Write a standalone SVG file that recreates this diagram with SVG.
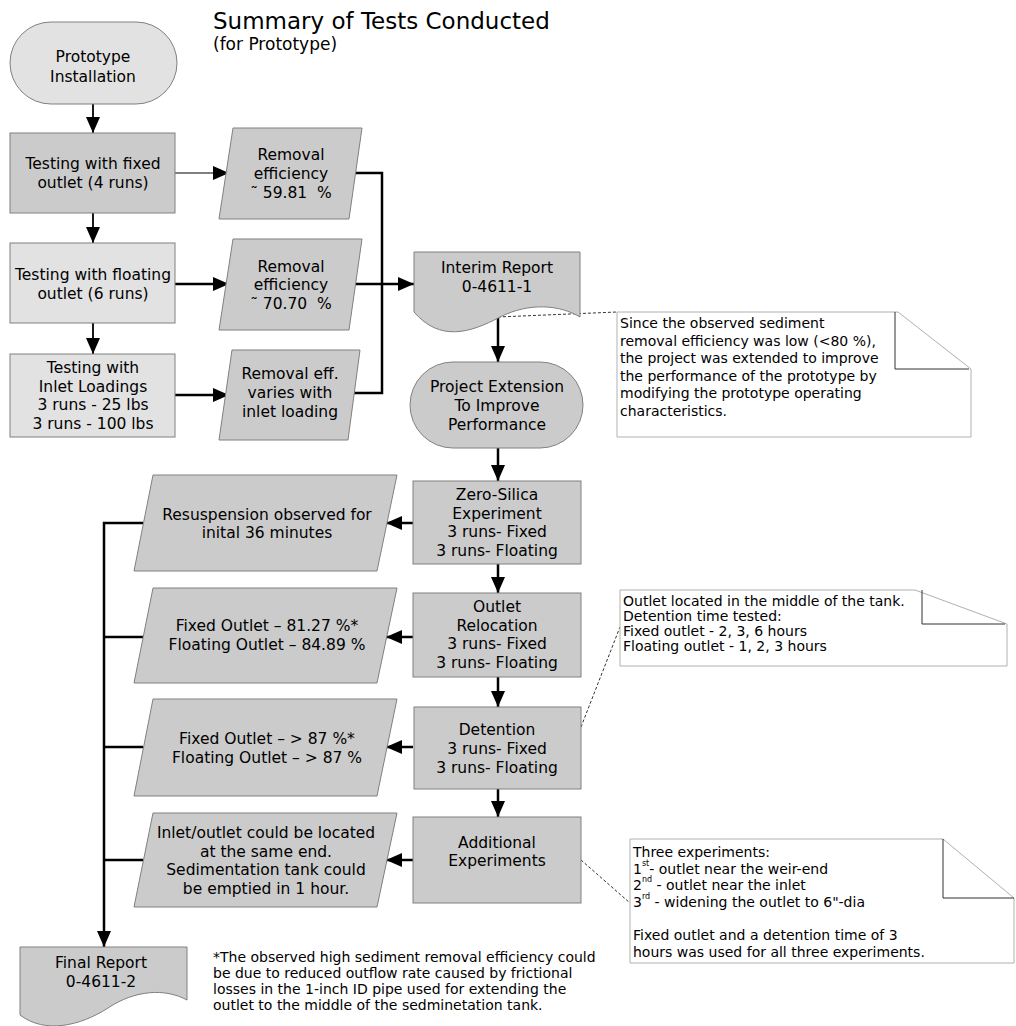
<svg xmlns="http://www.w3.org/2000/svg" width="1016" height="1026" viewBox="0 0 1016 1026">
<style>
text{font-family:"DejaVu Sans",Verdana,sans-serif;fill:#000}
.t{font-size:15.5px;text-anchor:middle}
.n{font-size:14px}
.sup{font-size:8px}
.dk{fill:#cbcbcb;stroke:#808080;stroke-width:1}
.lt{fill:#e2e2e2;stroke:#808080;stroke-width:1}
.note{fill:#fff;stroke:#b0b0b0;stroke-width:1}
.fold{fill:none;stroke:#303030;stroke-width:1}
.c{fill:none;stroke:#000;stroke-width:2.5}
.c2{fill:none;stroke:#000;stroke-width:1.8}
.c1{fill:none;stroke:#000;stroke-width:1.2}
.ds{fill:none;stroke:#000;stroke-width:0.8;stroke-dasharray:3,2}
</style>
<defs>
<marker id="ah" markerUnits="userSpaceOnUse" markerWidth="16" markerHeight="14" refX="16" refY="7" orient="auto">
<path d="M0,0 L16,7 L0,14 Z" fill="#000"/>
</marker>
</defs>
<g id="title">
<text x="213" y="29" style="font-size:23px">Summary of Tests Conducted</text>
<text x="213" y="50" style="font-size:17px">(for Prototype)</text>
</g>
<g id="connectors">
<path class="c2" d="M93,104 V133" marker-end="url(#ah)"/>
<path class="c1" d="M175,173 H229" marker-end="url(#ah)"/>
<path class="c2" d="M93,213 V243" marker-end="url(#ah)"/>
<path class="c" d="M175,284 H229" marker-end="url(#ah)"/>
<path class="c2" d="M93,323 V354" marker-end="url(#ah)"/>
<path class="c" d="M175,395 H229" marker-end="url(#ah)"/>
<path class="c" d="M355,173 H382 V393 H354"/>
<path class="c" d="M355,284 H414" marker-end="url(#ah)"/>
<path class="c" d="M498,318 V362" marker-end="url(#ah)"/>
<path class="c" d="M498,448 V481" marker-end="url(#ah)"/>
<path class="c" d="M413,523 H386" marker-end="url(#ah)"/>
<path class="c" d="M498,564 V593" marker-end="url(#ah)"/>
<path class="c" d="M413,637 H386" marker-end="url(#ah)"/>
<path class="c" d="M498,677 V707" marker-end="url(#ah)"/>
<path class="c" d="M413,747 H386" marker-end="url(#ah)"/>
<path class="c" d="M498,789 V817" marker-end="url(#ah)"/>
<path class="c" d="M413,860 H386" marker-end="url(#ah)"/>
<path class="c" d="M143,523 H104 V947" marker-end="url(#ah)"/>
<path class="c" d="M143,637 H104"/>
<path class="c" d="M143,747 H104"/>
<path class="c" d="M143,860 H104"/>
<path class="ds" d="M498,317 L617,312"/>
<path class="ds" d="M581,727 L620,627"/>
<path class="ds" d="M581,860 L630,903"/>
</g>
<g id="prototype-installation">
<rect class="lt" x="10" y="22" width="167" height="82" rx="41" ry="41"/>
<text class="t" x="93" y="62">Prototype</text>
<text class="t" x="93" y="82">Installation</text>
</g>
<g id="fixed-outlet">
<rect class="dk" x="10" y="133" width="165" height="80"/>
<text class="t" x="93" y="169">Testing with fixed</text>
<text class="t" x="93" y="188">outlet (4 runs)</text>
</g>
<g id="floating-outlet">
<rect class="lt" x="10" y="243" width="165" height="80"/>
<text class="t" x="93" y="280">Testing with floating</text>
<text class="t" x="93" y="299">outlet (6 runs)</text>
</g>
<g id="inlet-loadings">
<rect class="lt" x="10" y="354" width="165" height="83"/>
<text class="t" x="93" y="373">Testing with</text>
<text class="t" x="93" y="392">Inlet Loadings</text>
<text class="t" x="93" y="410">3 runs - 25 lbs</text>
<text class="t" x="93" y="429">3 runs - 100 lbs</text>
</g>
<g id="removal-1">
<polygon class="dk" points="233,128 362,128 349,219 219,219"/>
<text class="t" x="291" y="160">Removal</text>
<text class="t" x="291" y="179">efficiency</text>
<text class="t" x="291" y="198">˜ 59.81&#160; %</text>
</g>
<g id="removal-2">
<polygon class="dk" points="233,239 362,239 349,330 219,330"/>
<text class="t" x="291" y="272">Removal</text>
<text class="t" x="291" y="290">efficiency</text>
<text class="t" x="291" y="309">˜ 70.70&#160; %</text>
</g>
<g id="removal-3">
<polygon class="dk" points="232,350 360,350 348,440 219,440"/>
<text class="t" x="290" y="379">Removal eff.</text>
<text class="t" x="290" y="398">varies with</text>
<text class="t" x="290" y="417">inlet loading</text>
</g>
<g id="interim-report">
<path class="dk" d="M414,252 H580 V317 C560,305 530,302 500,317 C470,333 440,342 414,312 Z"/>
<text class="t" x="497" y="273">Interim Report</text>
<text class="t" x="497" y="292">0-4611-1</text>
</g>
<g id="note-1">
<polygon class="note" points="617,312 898,312 971,369 971,437 617,437"/>
<path class="fold" d="M895,312 V369 H969"/>
<text class="n" x="620" y="328">Since the observed sediment</text>
<text class="n" x="620" y="345.5">removal efficiency was low (&lt;80 %),</text>
<text class="n" x="620" y="363">the project was extended to improve</text>
<text class="n" x="620" y="380.5">the performance of the prototype by</text>
<text class="n" x="620" y="398">modifying the prototype operating</text>
<text class="n" x="620" y="415.5">characteristics.</text>
</g>
<g id="project-extension">
<rect class="dk" x="410" y="362" width="173" height="86" rx="43" ry="43"/>
<text class="t" x="497" y="392">Project Extension</text>
<text class="t" x="497" y="411">To Improve</text>
<text class="t" x="497" y="430">Performance</text>
</g>
<g id="zero-silica">
<rect class="dk" x="413" y="481" width="168" height="83"/>
<text class="t" x="497" y="500">Zero-Silica</text>
<text class="t" x="497" y="519">Experiment</text>
<text class="t" x="497" y="537">3 runs- Fixed</text>
<text class="t" x="497" y="556">3 runs- Floating</text>
</g>
<g id="resuspension">
<polygon class="dk" points="153,475 397,475 377,571 134,571"/>
<text class="t" x="267" y="520">Resuspension observed for</text>
<text class="t" x="267" y="538">inital 36 minutes</text>
</g>
<g id="outlet-relocation">
<rect class="dk" x="413" y="593" width="168" height="84"/>
<text class="t" x="497" y="612">Outlet</text>
<text class="t" x="497" y="631">Relocation</text>
<text class="t" x="497" y="649">3 runs- Fixed</text>
<text class="t" x="497" y="668">3 runs- Floating</text>
</g>
<g id="relocation-result">
<polygon class="dk" points="153,588 397,588 377,683 134,683"/>
<text class="t" x="267" y="631">Fixed Outlet – 81.27 %*</text>
<text class="t" x="267" y="650">Floating Outlet – 84.89 %</text>
</g>
<g id="note-2">
<polygon class="note" points="620,590 915,590 1007,624 1007,666 620,666"/>
<path class="fold" d="M922,590 V624 H1005"/>
<text class="n" x="623" y="606">Outlet located in the middle of the tank.</text>
<text class="n" x="623" y="621">Detention time tested:</text>
<text class="n" x="623" y="636">Fixed outlet - 2, 3, 6 hours</text>
<text class="n" x="623" y="651">Floating outlet - 1, 2, 3 hours</text>
</g>
<g id="detention">
<rect class="dk" x="414" y="707" width="167" height="82"/>
<text class="t" x="497" y="735">Detention</text>
<text class="t" x="497" y="754">3 runs- Fixed</text>
<text class="t" x="497" y="773">3 runs- Floating</text>
</g>
<g id="detention-result">
<polygon class="dk" points="153,699 397,699 377,796 134,796"/>
<text class="t" x="267" y="744">Fixed Outlet – &gt; 87 %*</text>
<text class="t" x="267" y="763">Floating Outlet – &gt; 87 %</text>
</g>
<g id="additional-experiments">
<rect class="dk" x="413" y="817" width="168" height="86"/>
<text class="t" x="497" y="848">Additional</text>
<text class="t" x="497" y="866">Experiments</text>
</g>
<g id="additional-result">
<polygon class="dk" points="153,813 397,813 377,907 134,907"/>
<text class="t" x="266" y="838">Inlet/outlet could be located</text>
<text class="t" x="266" y="857">at the same end.</text>
<text class="t" x="266" y="875">Sedimentation tank could</text>
<text class="t" x="266" y="894">be emptied in 1 hour.</text>
</g>
<g id="note-3">
<polygon class="note" points="630,839 943,839 1014,898 1014,963 630,963"/>
<path class="fold" d="M943,839 V898 H1014"/>
<text class="n" x="633" y="857">Three experiments:</text>
<text class="n" x="633" y="873.5">1<tspan class="sup" dy="-8">st</tspan><tspan dy="8">- outlet near the weir-end</tspan></text>
<text class="n" x="633" y="890">2<tspan class="sup" dy="-8">nd</tspan><tspan dy="8"> - outlet near the inlet</tspan></text>
<text class="n" x="633" y="906.5">3<tspan class="sup" dy="-8">rd</tspan><tspan dy="8"> - widening the outlet to 6"-dia</tspan></text>
<text class="n" x="633" y="940">Fixed outlet and a detention time of 3</text>
<text class="n" x="633" y="957">hours was used for all three experiments.</text>
</g>
<g id="final-report">
<path class="dk" d="M20,947 H187 V1000 C165,988 135,990 108,1008 C80,1026 45,1034 20,1015 Z"/>
<text class="t" x="101" y="968">Final Report</text>
<text class="t" x="101" y="987">0-4611-2</text>
</g>
<g id="footnote">
<text class="n" x="213" y="962">*The observed high sediment removal efficiency could</text>
<text class="n" x="213" y="978">be due to reduced outflow rate caused by frictional</text>
<text class="n" x="213" y="994">losses in the 1-inch ID pipe used for extending the</text>
<text class="n" x="213" y="1010">outlet to the middle of the sedminetation tank.</text>
</g>
</svg>
